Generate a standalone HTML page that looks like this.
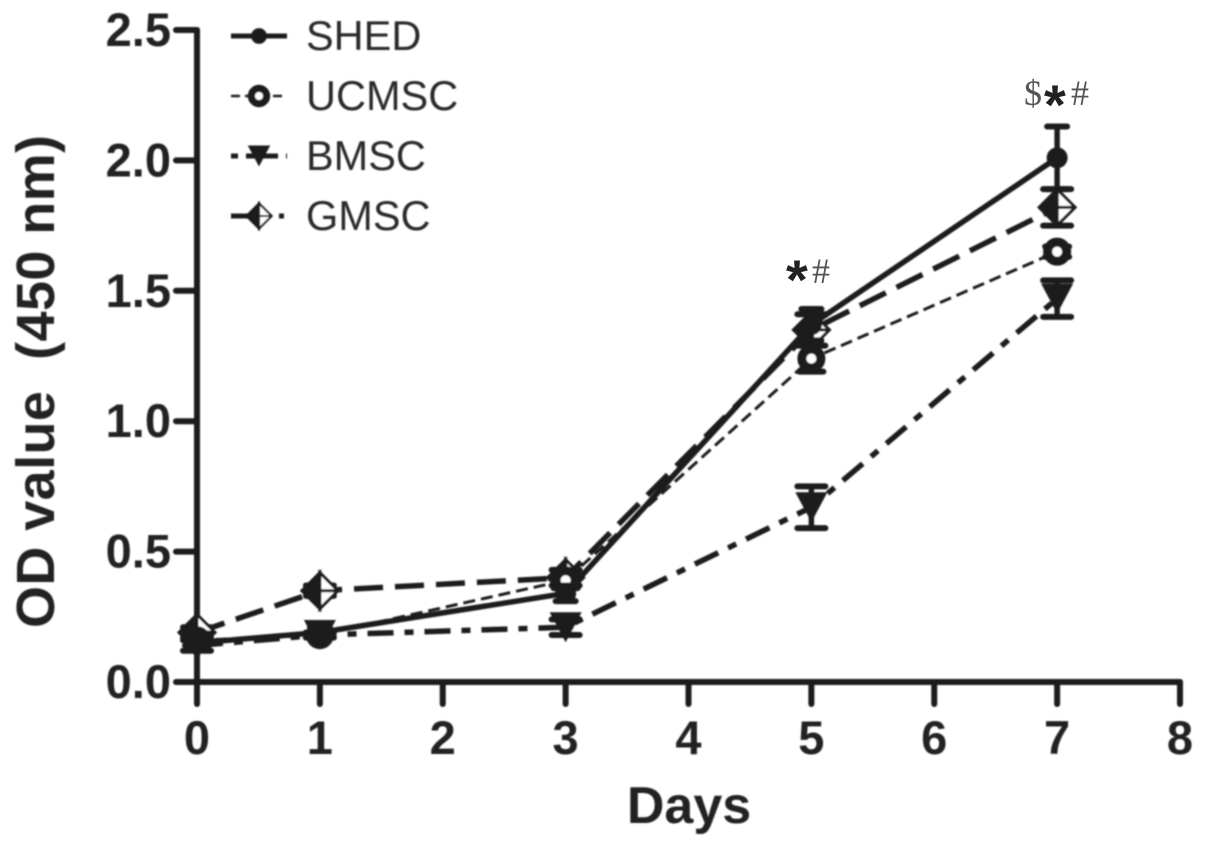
<!DOCTYPE html>
<html lang="en">
<head>
<meta charset="utf-8">
<title>OD value over days</title>
<style>
html,body{margin:0;padding:0;background:#fff;width:1205px;height:847px;overflow:hidden}
svg{display:block}
text{font-family:"Liberation Sans",sans-serif;fill:#222}
.tick{font-weight:700;font-size:47px}
.title{font-weight:700;font-size:52px;white-space:pre}
.ytitle{font-weight:700;font-size:54px;white-space:pre}
.leg{font-size:41.5px;fill:#2a2a2a}
.ann{font-family:"Liberation Serif",serif;font-size:36px;fill:#555}
.star{font-family:"Liberation Sans",sans-serif;font-weight:700;font-size:56px;fill:#222}
</style>
</head>
<body>
<svg id="chart" xmlns="http://www.w3.org/2000/svg" width="1205" height="847" viewBox="0 0 1205 847">
<defs><filter id="soft" x="-5%" y="-5%" width="110%" height="110%"><feGaussianBlur stdDeviation="0.7"/></filter></defs>
<g id="root" filter="url(#soft)"></g>
</svg>
<script>
const days = [0, 1, 3, 5, 7];
const xTickLabels = ['0', '1', '2', '3', '4', '5', '6', '7', '8'];
const yTickLabels = ['0.0', '0.5', '1.0', '1.5', '2.0', '2.5'];
const shedValues = [0.15, 0.19, 0.34, 1.37, 2.01];
const shedErrors = [0.02, 0.02, 0.03, 0.06, 0.12];
const ucmscValues = [0.16, 0.18, 0.39, 1.24, 1.65];
const ucmscErrors = [0.02, 0.01, 0.03, 0.05, 0.02];
const bmscValues = [0.14, 0.18, 0.21, 0.67, 1.47];
const bmscErrors = [0.02, 0.01, 0.03, 0.08, 0.07];
const gmscValues = [0.19, 0.35, 0.40, 1.35, 1.82];
const gmscErrors = [0.02, 0.02, 0.03, 0.06, 0.07];
const seriesNames = ['SHED', 'UCMSC', 'BMSC', 'GMSC'];

const NS = 'http://www.w3.org/2000/svg';
const root = document.getElementById('root');
const x = d => 197 + d * (1180 - 197) / 8;
const y = v => 682 - v * (682 - 30) / 2.5;
const INK = '#1c1c1c';

function add(parent, tag, attrs, text) {
  const el = document.createElementNS(NS, tag);
  for (const k in attrs) el.setAttribute(k, attrs[k]);
  if (text !== undefined) el.textContent = text;
  parent.appendChild(el);
  return el;
}
function group(name) {
  const g = document.createElementNS(NS, 'g');
  
  
  root.appendChild(g);
  return g;
}
function line(p, x1, y1, x2, y2, w, dash) {
  const a = {x1, y1, x2, y2, stroke: INK, 'stroke-width': w, 'stroke-linecap': 'round'};
  if (dash) { a['stroke-dasharray'] = dash; a['stroke-linecap'] = 'butt'; }
  return add(p, 'line', a);
}
function marker(p, kind, cx, cy) {
  if (kind === 0) {
    add(p, 'circle', {cx, cy, r: 10.5, fill: INK});
  } else if (kind === 1) {
    add(p, 'circle', {cx, cy, r: 9.5, fill: '#fff', stroke: INK, 'stroke-width': 9});
  } else if (kind === 2) {
    add(p, 'path', {d: `M${cx - 16} ${cy - 15}H${cx + 16}L${cx} ${cy + 15}Z`, fill: INK});
  } else {
    add(p, 'path', {d: `M${cx} ${cy - 18}L${cx + 18} ${cy}L${cx} ${cy + 18}Z`, fill: '#fff', stroke: INK, 'stroke-width': 3});
    add(p, 'path', {d: `M${cx} ${cy - 18}L${cx - 18} ${cy}L${cx} ${cy + 18}Z`, fill: INK, stroke: INK, 'stroke-width': 3});
    line(p, cx, cy, cx + 18, cy, 3);
  }
}

// Axes
const axes = group('axes');
line(axes, x(0), y(2.5), x(0), y(0), 6);
line(axes, x(0), y(0), x(8), y(0), 6);
xTickLabels.forEach((lab, i) => {
  line(axes, x(i), y(0), x(i), y(0) + 22, 6);
  const t = add(axes, 'text', {class: 'tick', x: x(i), y: 754, 'text-anchor': 'middle'}, lab);
  
  
});
yTickLabels.forEach((lab, i) => {
  const v = i * 0.5;
  line(axes, 176, y(v), x(0), y(v), 6);
  const t = add(axes, 'text', {class: 'tick', x: 171, y: y(v) + 16, 'text-anchor': 'end'}, lab);
  
  
});
const xTitle = add(axes, 'text', {class: 'title', x: 689, y: 823, 'text-anchor': 'middle'}, 'Days');


const yTitle = add(axes, 'text', {class: 'ytitle', transform: 'translate(54,628) rotate(-90)', textLength: 493, lengthAdjust: 'spacing'}, 'OD value  (450 nm)');



// Series
const styles = [
  {w: 5.5, dash: null, cap: 10},
  {w: 3, dash: '12 6', cap: 12},
  {w: 5.5, dash: '26 11 9 11', cap: 14},
  {w: 5.5, dash: '29 12', cap: 14}
];
const values = [shedValues, ucmscValues, bmscValues, gmscValues];
const errors = [shedErrors, ucmscErrors, bmscErrors, gmscErrors];
const drawOrder = [3, 2, 1, 0];
drawOrder.forEach(s => {
  const vals = values[s];
  const g = group('series-' + seriesNames[s].toLowerCase());
  const pts = vals.map((v, i) => x(days[i]) + ',' + y(v)).join(' ');
  const a = {points: pts, fill: 'none', stroke: INK, 'stroke-width': styles[s].w};
  if (styles[s].dash) a['stroke-dasharray'] = styles[s].dash;
  add(g, 'polyline', a);
  vals.forEach((v, i) => {
    const cx = x(days[i]);
    const top = y(v + errors[s][i]);
    const bot = y(v - errors[s][i]);
    line(g, cx, top, cx, bot, 5.5);
    line(g, cx - styles[s].cap, top, cx + styles[s].cap, top, 6);
    line(g, cx - styles[s].cap, bot, cx + styles[s].cap, bot, 6);
    marker(g, s, cx, y(v));
  });
});

// Legend
const legend = group('legend');
seriesNames.forEach((name, s) => {
  const ly = 36 + s * 60;
  const a = {x1: 231, y1: ly, x2: 287, y2: ly, stroke: INK, 'stroke-width': styles[s].w === 3 ? 2.5 : 5};
  if (s === 1) a['stroke-dasharray'] = '9 5';
  if (s === 2) a['stroke-dasharray'] = '7 8 32 8 3 8';
  if (s === 3) a['stroke-dasharray'] = '40 8 5 8';
  add(legend, 'line', a);
  const c = s === 0 ? 0.75 : s === 1 ? 0.8 : 0.7;
  const m = add(legend, 'g', {transform: `translate(259,${ly}) scale(${c}) translate(-259,${-ly})`});
  marker(m, s, 259, ly);
  const t = add(legend, 'text', {class: 'leg', x: 306, y: ly + 14}, name);
  
  
});
</script>
<svg style="position:absolute;left:0;top:0" width="1205" height="847" viewBox="0 0 1205 847">
<text class="star" x="786" y="299">*</text>
<text class="ann" x="812" y="283">#</text>
<text class="ann" x="1024" y="105">$</text>
<text class="star" x="1044" y="124">*</text>
<text class="ann" x="1071" y="105">#</text>
</svg>
</body>
</html>
